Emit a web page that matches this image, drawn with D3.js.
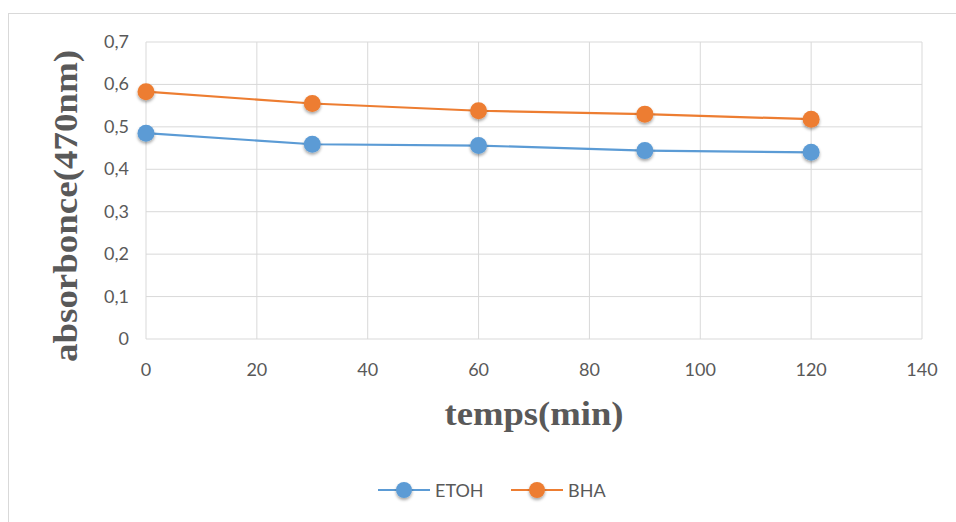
<!DOCTYPE html>
<html><head><meta charset="utf-8">
<script src="https://cdn.jsdelivr.net/npm/d3@7"></script>
<style>body{margin:0;background:#fff}svg{display:block}</style>
</head><body><svg id="c" width="956" height="522"></svg>
<script>
const times = [0, 30, 60, 90, 120];
const etoh = [0.485, 0.459, 0.456, 0.444, 0.440];
const bha = [0.583, 0.555, 0.538, 0.530, 0.518];
const xTicks = [0, 20, 40, 60, 80, 100, 120, 140];
const yTicks = [0, 0.1, 0.2, 0.3, 0.4, 0.5, 0.6, 0.7];
const seriesNames = ["ETOH", "BHA"];
const colors = ["#5b9bd5", "#ed7d31"];

const svg = d3.select("#c");
const defs = svg.append("defs");
const f = defs.append("filter").attr("id","sh").attr("x","-50%").attr("y","-50%").attr("width","200%").attr("height","200%");
f.append("feDropShadow").attr("dx",0).attr("dy",2).attr("stdDeviation",1.6).attr("flood-color","#000").attr("flood-opacity",0.35);

svg.append("rect").attr("x",8.5).attr("y",13.5).attr("width",960).attr("height",520)
  .attr("fill","#fff").attr("stroke","#d9d9d9");

const x = d3.scaleLinear().domain([0,140]).range([146,922]);
const y = d3.scaleLinear().domain([0,0.7]).range([339,42]);

const g = svg.append("g");
g.selectAll(".vg").data(xTicks).join("line")
  .attr("x1",d=>x(d)).attr("x2",d=>x(d)).attr("y1",y(0)).attr("y2",y(0.7))
  .attr("stroke","#d9d9d9").attr("stroke-width",1);
g.selectAll(".hg").data(yTicks).join("line")
  .attr("x1",x(0)).attr("x2",x(140)).attr("y1",d=>y(d)).attr("y2",d=>y(d))
  .attr("stroke","#d9d9d9").attr("stroke-width",1);

const font = "Lato, 'Open Sans', sans-serif";
g.selectAll(".xl").data(xTicks).join("text")
  .attr("x",d=>x(d)).attr("y",376).attr("text-anchor","middle")
  .attr("font-family",font).attr("font-size",18).attr("fill","#595959").text(d=>d);
const fmt = d => d===0 ? "0" : d3.format(".1f")(d).replace(".",",");
g.selectAll(".yl").data(yTicks).join("text")
  .attr("x",129).attr("y",d=>y(d)+6).attr("text-anchor","end")
  .attr("font-family",font).attr("font-size",18).attr("fill","#595959").text(fmt);

svg.append("text").attr("transform","translate(77,206) rotate(-90)").attr("text-anchor","middle")
  .attr("font-family","'Liberation Serif', serif").attr("font-weight","bold").attr("font-size",34)
  .attr("textLength",312).attr("lengthAdjust","spacingAndGlyphs")
  .attr("fill","#595959").text("absorbonce(470nm)");
svg.append("text").attr("x",534).attr("y",425).attr("text-anchor","middle")
  .attr("font-family","'Liberation Serif', serif").attr("font-weight","bold").attr("font-size",34)
  .attr("textLength",179).attr("lengthAdjust","spacingAndGlyphs")
  .attr("fill","#595959").text("temps(min)");

const data = [etoh, bha];
const line = d3.line().x((d,i)=>x(times[i])).y(d=>y(d));
data.forEach((s,k)=>{
  svg.append("path").datum(s).attr("d",line).attr("fill","none")
    .attr("stroke",colors[k]).attr("stroke-width",2.2);
  svg.selectAll(".m"+k).data(s).join("circle")
    .attr("cx",(d,i)=>x(times[i])).attr("cy",d=>y(d)).attr("r",8.5)
    .attr("fill",colors[k]).attr("filter","url(#sh)");
});

const legX = [378, 511];
seriesNames.forEach((n,k)=>{
  const lg = svg.append("g").attr("transform",`translate(${legX[k]},490)`);
  lg.append("line").attr("x1",0).attr("x2",52).attr("stroke",colors[k]).attr("stroke-width",2.2);
  lg.append("circle").attr("cx",26).attr("r",8).attr("fill",colors[k]).attr("filter","url(#sh)");
  lg.append("text").attr("x",57).attr("y",7).attr("font-family",font).attr("font-size",18)
    .attr("fill","#595959").text(n);
});
</script></body></html>
